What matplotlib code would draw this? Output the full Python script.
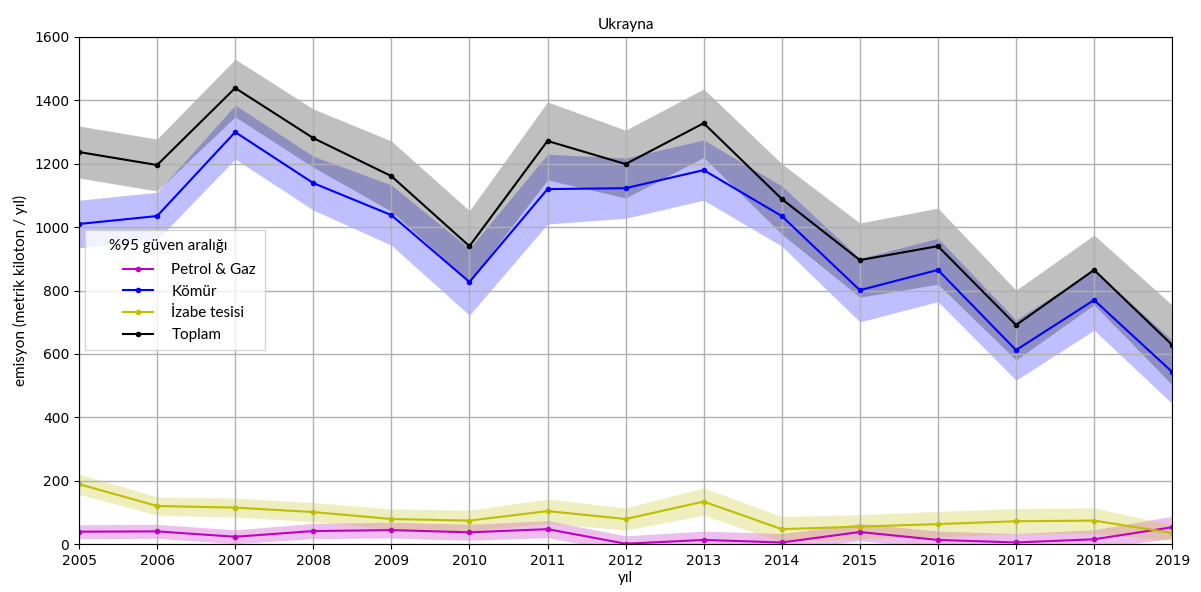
import matplotlib
matplotlib.use("Agg")
import matplotlib.pyplot as plt
from matplotlib.offsetbox import HPacker, DrawingArea
import numpy as np

years = [2005, 2006, 2007, 2008, 2009, 2010, 2011, 2012, 2013, 2014, 2015, 2016, 2017, 2018, 2019]

petrol_gaz = [39, 40, 23, 41, 44, 37, 47, 1, 13, 5, 38, 13, 5, 15, 53]
petrol_gaz_ci = [22, 22, 22, 24, 25, 25, 27, 25, 28, 28, 27, 28, 28, 30, 35]

komur = [1010, 1035, 1300, 1139, 1038, 827, 1120, 1123, 1180, 1035, 801, 865, 612, 770, 543]
komur_ci = [75, 75, 85, 85, 95, 105, 110, 95, 95, 95, 100, 100, 95, 95, 100]

izabe = [189, 120, 115, 101, 79, 74, 104, 79, 134, 47, 55, 63, 72, 74, 35]
izabe_ci = [32, 29, 30, 30, 32, 33, 38, 35, 43, 40, 38, 40, 40, 40, 25]

toplam = [1237, 1196, 1439, 1281, 1161, 940, 1272, 1199, 1328, 1089, 896, 940, 691, 865, 628]
toplam_ci = [82, 82, 91, 92, 111, 112, 123, 107, 108, 111, 117, 120, 110, 110, 126]

series = [
    ("Petrol & Gaz", petrol_gaz, petrol_gaz_ci, "m"),
    ("Kömür", komur, komur_ci, "b"),
    ("İzabe tesisi", izabe, izabe_ci, "y"),
    ("Toplam", toplam, toplam_ci, "k"),
]

label_font = "Lato"

fig = plt.figure(figsize=(12.01, 5.92), dpi=100)
ax = fig.add_axes([0.0658, 0.081, 0.9102, 0.8565])

for name, vals, ci, col in series:
    v = np.array(vals, dtype=float)
    c = np.array(ci, dtype=float)
    ax.plot(years, v, color=col, marker=".", markersize=6, linewidth=1.5, label=name)
    ax.fill_between(years, v - c, v + c, color=col, alpha=0.25, linewidth=0)

ax.set_xlim(2005, 2019)
ax.set_ylim(0, 1600)
ax.set_xticks(years)
ax.set_yticks(range(0, 1601, 200))
ax.grid(True, color="#b0b0b0", linewidth=1)
ax.tick_params(labelsize=10)

ax.set_title("Ukrayna", fontsize=11, family=label_font)
ax.set_xlabel("yıl", fontsize=11, family=label_font, labelpad=2)
ax.set_ylabel("emisyon (metrik kiloton / yıl)", fontsize=11, family=label_font)

leg = ax.legend(title="%95 güven aralığı", loc="upper left",
                bbox_to_anchor=(0.0055, 0.619), borderaxespad=0,
                prop={"family": label_font, "size": 11},
                title_fontproperties={"family": label_font, "size": 11},
                handlelength=2.0, handletextpad=1.2, borderpad=0.55,
                labelspacing=0.5, fancybox=False)
leg.get_frame().set_edgecolor("#cccccc")

# indent the title and the entries inside the legend box
box = leg._legend_box
box.align = "left"
box.sep = box.sep + 2
title_box, entries_box = box.get_children()
box._children = [
    HPacker(children=[DrawingArea(11, 1), title_box], pad=0, sep=0),
    HPacker(children=[DrawingArea(21, 1), entries_box], pad=0, sep=0),
]

fig.savefig("out.png", dpi=100)
